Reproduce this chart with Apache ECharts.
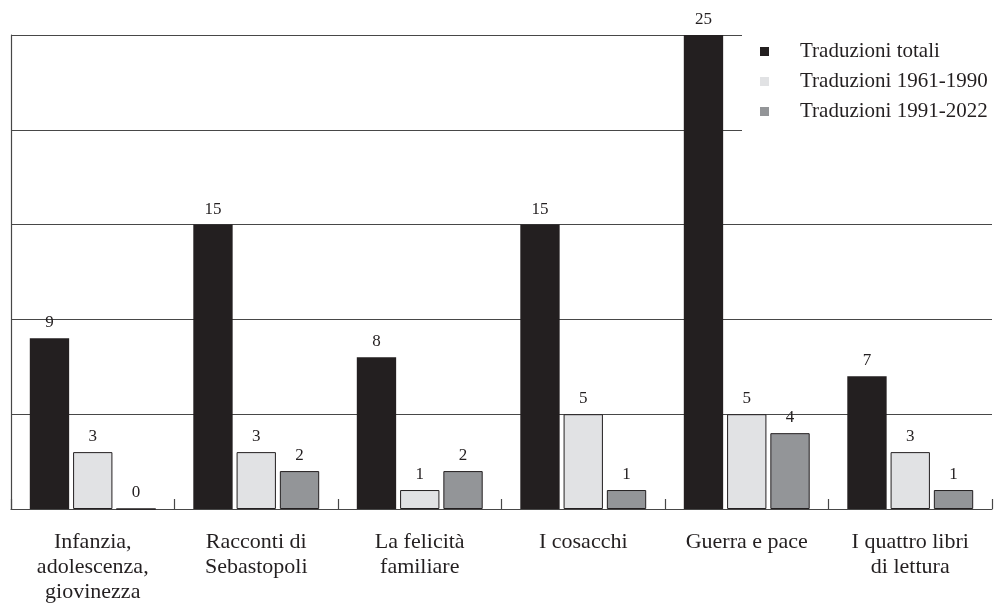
<!DOCTYPE html>
<html>
<head>
<meta charset="utf-8">
<style>
  html, body { margin: 0; padding: 0; background: #fff; }
  #chart { width: 997px; height: 616px; }
</style>
<script src="https://cdn.jsdelivr.net/npm/echarts@6/dist/echarts.min.js"></script>
</head>
<body>
<div id="chart"></div>
<script>
// Opere di Tolstoj: numero di traduzioni italiane
const categories = [
  'Infanzia,\nadolescenza,\ngiovinezza',
  'Racconti di\nSebastopoli',
  'La felicità\nfamiliare',
  'I cosacchi',
  'Guerra e pace',
  'I quattro libri\ndi lettura'
];
const seriesNames = ['Traduzioni totali', 'Traduzioni 1961-1990', 'Traduzioni 1991-2022'];
const totali = [9, 15, 8, 15, 25, 7];
const periodo1961 = [3, 3, 1, 5, 5, 3];
const periodo1991 = [0, 2, 2, 1, 4, 1];
const yTicks = [0, 5, 10, 15, 20, 25];

const FONT = 'Liberation Serif';
const INK = '#231f20';
const LINE = '#474747';
const fills = ['#231f20', '#e1e2e4', '#939598'];

function barSeries(name, data, idx) {
  return {
    name: name,
    type: 'bar',
    data: data,
    barGap: '10%',
    barCategoryGap: '23%',
    itemStyle: {
      color: fills[idx],
      borderColor: INK,
      borderWidth: idx === 0 ? 0 : 1
    },
    label: {
      show: true,
      position: 'top',
      distance: 7,
      color: INK,
      fontFamily: FONT,
      fontSize: 17
    },
    emphasis: { disabled: true }
  };
}

const chart = echarts.init(document.getElementById('chart'), null, { renderer: 'canvas' });
chart.setOption({
  animation: false,
  backgroundColor: '#fff',
  grid: { left: 11, right: 5, top: 35, bottom: 107, containLabel: false },
  legend: {
    left: 742,
    top: 30,
    orient: 'vertical',
    backgroundColor: '#fff',
    padding: [11, 40, 16, 18],
    itemWidth: 9,
    itemHeight: 9,
    itemGap: 9,
    icon: 'rect',
    selectedMode: false,
    textStyle: {
      fontFamily: FONT,
      fontSize: 21,
      lineHeight: 20,
      color: INK,
      padding: [0, 0, 0, 26]
    },
    data: seriesNames.map((n, i) => ({ name: n, itemStyle: { color: fills[i], borderWidth: 0 } }))
  },
  xAxis: {
    type: 'category',
    data: categories,
    axisLine: { show: true, lineStyle: { color: LINE, width: 1.2 } },
    axisTick: { show: true, inside: true, length: 10, interval: 0, lineStyle: { color: LINE, width: 1.2 } },
    axisLabel: {
      interval: 0,
      margin: 21,
      fontFamily: FONT,
      fontSize: 22,
      lineHeight: 25,
      color: INK
    }
  },
  yAxis: {
    type: 'value',
    min: yTicks[0],
    max: yTicks[yTicks.length - 1],
    interval: yTicks[1] - yTicks[0],
    axisLine: { show: true, lineStyle: { color: LINE, width: 1.2 } },
    axisTick: { show: false },
    axisLabel: { show: false },
    splitLine: { show: true, lineStyle: { color: LINE, width: 1.2 } }
  },
  series: [
    barSeries(seriesNames[0], totali, 0),
    barSeries(seriesNames[1], periodo1961, 1),
    barSeries(seriesNames[2], periodo1991, 2)
  ]
});
</script>
</body>
</html>
